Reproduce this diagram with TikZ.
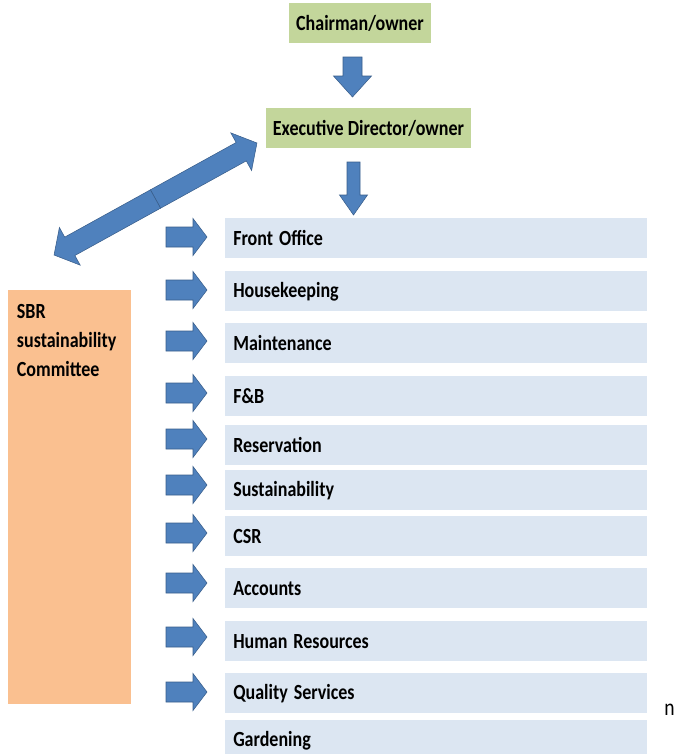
\documentclass[tikz,border=0pt]{standalone}
\usepackage{fontspec}
\setmainfont{Carlito}
\usepackage{tikz}
\usetikzlibrary{positioning}
\definecolor{headgreen}{HTML}{C3D69B}
\definecolor{deptblue}{HTML}{DCE6F2}
\definecolor{sbrorange}{HTML}{FAC090}
\definecolor{arrowfill}{HTML}{4F81BD}
\definecolor{arrowline}{HTML}{385D8A}
\newcommand{\tall}[1]{\scalebox{1}[1.2]{#1}}
\newcommand{\blockarrow}[4]{
    % Block arrow along +x: length, half shaft, half head, head length
    \filldraw[fill=arrowfill, draw=arrowline, line width=.4pt]
      (0,-#2) -- (#1-#4,-#2) -- (#1-#4,-#3) -- (#1,0) -- (#1-#4,#3) -- (#1-#4,#2) -- (0,#2) -- cycle;
}
\tikzset{
  headbox/.style={fill=headgreen, inner sep=0pt, minimum height=30pt, font=\fontsize{13.5}{16}\selectfont\bfseries},
  deptbox/.style={fill=deptblue, anchor=north west, minimum height=30pt, text width=304.5pt, inner xsep=6pt, inner ysep=0pt, align=left, font=\fontsize{13.5}{16}\selectfont\bfseries},
}
\begin{document}
\begin{tikzpicture}[x=0.75pt, y=-0.75pt]
  \useasboundingbox (0,0) rectangle (677,754);

  % Draw the top boxes
  \node[headbox, minimum width=106.5pt] (chair) at (360,23) {\tall{Chairman/owner}};
  \node[headbox, minimum width=153.75pt] (exec) at (368.5,128) {\tall{Executive Director/owner}};

  % Draw the down arrows
  \begin{scope}[shift={(352.5,57)}, rotate=-90]
    \blockarrow{40}{9.5}{19}{21}
  \end{scope}
  \begin{scope}[shift={(353.5,162)}, rotate=-90]
    \blockarrow{53}{6.5}{14}{20}
  \end{scope}

  % Draw the double arrow
  \foreach \a in {28.9,208.9} {
    \begin{scope}[shift={(155.5,199)}, rotate=\a]
      \blockarrow{115.9}{10.5}{21.5}{18}
    \end{scope}
  }

  % Draw the committee box
  \node[fill=sbrorange, anchor=north west, minimum width=92.25pt, minimum height=310.5pt] (sbr) at (8,290) {};
  \node[below right=10.5pt and 6.5pt of sbr.north west, inner sep=0pt, align=left, font=\fontsize{13.5}{21.75}\selectfont\bfseries] (sbrtext)
    {\tall{SBR}\\\tall{sustainability}\\\tall{Committee}};

  % Draw the departments
  \foreach \y/\n/\t in {218/fo/Front Office, 271/hk/Housekeeping, 323/ma/Maintenance, 376/fb/F\&B, 425/re/Reservation,
                        470/su/Sustainability, 516/cs/CSR, 568/ac/Accounts, 621/hr/Human Resources, 673/qs/Quality Services, 720/ga/Gardening} {
    \node[deptbox] (\n) at (225,\y) {\tall{\t}};
  }

  % Draw the right arrows
  \foreach \y in {237,290,341,393,439,485,533,583,637,692} {
    \begin{scope}[shift={(166,\y)}]
      \blockarrow{41}{10}{18.5}{14}
    \end{scope}
  }

  \node[font=\fontsize{14.7}{17}\selectfont] (stray) at (669.5,710) {\tall{n}};
\end{tikzpicture}
\end{document}
